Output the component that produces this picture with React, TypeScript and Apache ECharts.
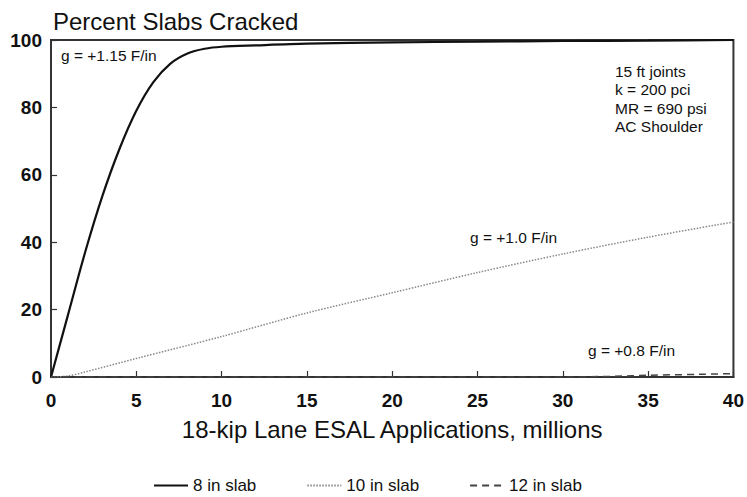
import React, { useEffect, useRef } from "react";
import * as echarts from "echarts";

const xTicks = [0, 5, 10, 15, 20, 25, 30, 35, 40];
const slab8X = [0, 1, 2, 3, 4, 5, 6, 7, 8, 9, 10, 12, 15, 20, 25, 30, 35, 40];
const slab8Y = [0, 18.5, 37, 53.5, 67.5, 79, 87.5, 93, 96, 97.4, 98, 98.4, 98.9, 99.3, 99.5, 99.7, 99.8, 100];
const slab10X = [0, 1, 2, 5, 10, 15, 20, 25, 30, 35, 40];
const slab10Y = [0, 0.3, 1.5, 5.5, 12, 19, 25, 31, 36.5, 41.5, 46];
const slab12X = [0, 10, 20, 30, 33, 35, 38, 40];
const slab12Y = [0, 0, 0, 0, 0.2, 0.5, 0.8, 1];

const zip = (xs: number[], ys: number[]) => xs.map((x, i) => [x, ys[i]]);

const FONT = "Liberation Sans";

export default function App() {
  const ref = useRef<HTMLDivElement>(null);
  useEffect(() => {
    if (!ref.current) return;
    const chart = echarts.init(ref.current, undefined, { renderer: "svg" });
    chart.setOption({
      animation: false,
      backgroundColor: "#ffffff",
      textStyle: { fontFamily: FONT },
      title: {
        text: "Percent Slabs Cracked",
        left: 48,
        top: 4,
        textStyle: { fontFamily: FONT, fontSize: 24, fontWeight: "normal", color: "#111" },
      },
      grid: {
        left: 51,
        right: 7,
        top: 40,
        bottom: 120,
        show: true,
        borderColor: "#333",
        borderWidth: 2,
        backgroundColor: "transparent",
      },
      legend: {
        left: 148,
        top: 472,
        itemWidth: 34,
        itemHeight: 10,
        itemGap: 50,
        itemStyle: { opacity: 0 },
        textStyle: { fontFamily: FONT, fontSize: 17, color: "#111" },
        data: ["8 in slab", "10 in slab", "12 in slab"],
      },
      xAxis: {
        type: "value",
        min: 0,
        max: 40,
        interval: 5,
        name: "18-kip Lane ESAL Applications, millions",
        nameLocation: "middle",
        nameGap: 40,
        nameTextStyle: { fontFamily: FONT, fontSize: 24, color: "#111" },
        axisLine: { show: true, lineStyle: { color: "#333", width: 2 } },
        axisTick: { show: true, inside: true, length: 6, lineStyle: { color: "#333", width: 1.2 } },
        axisLabel: {
          margin: 14,
          fontFamily: FONT,
          fontSize: 19,
          fontWeight: "bold",
          color: "#111",
          formatter: (v: number) => (xTicks.includes(v) ? String(v) : ""),
        },
        splitLine: { show: false },
      },
      yAxis: {
        type: "value",
        min: 0,
        max: 100,
        interval: 20,
        axisLine: { show: true, lineStyle: { color: "#333", width: 2 } },
        axisTick: { show: true, inside: true, length: 6, lineStyle: { color: "#333", width: 1.2 } },
        axisLabel: { margin: 9, fontFamily: FONT, fontSize: 19, fontWeight: "bold", color: "#111" },
        splitLine: { show: false },
      },
      series: [
        {
          name: "8 in slab",
          type: "line",
          data: zip(slab8X, slab8Y),
          smooth: 0.3,
          symbol: "none",
          lineStyle: { color: "#111", width: 2.2, type: "solid" },
          itemStyle: { color: "#111" },
        },
        {
          name: "10 in slab",
          type: "line",
          data: zip(slab10X, slab10Y),
          smooth: 0.3,
          symbol: "none",
          lineStyle: { color: "#888", width: 1.5, type: [1.5, 1.5] },
          itemStyle: { color: "#888" },
        },
        {
          name: "12 in slab",
          type: "line",
          data: zip(slab12X, slab12Y),
          smooth: 0.3,
          symbol: "none",
          lineStyle: { color: "#444", width: 1.5, type: [7, 5] },
          itemStyle: { color: "#444" },
        },
      ],
      graphic: [
        {
          type: "text",
          left: 61,
          top: 47,
          style: { text: "g = +1.15 F/in", font: `15.5px "${FONT}"`, fill: "#111" },
        },
        {
          type: "text",
          left: 470,
          top: 229,
          style: { text: "g = +1.0 F/in", font: `15.5px "${FONT}"`, fill: "#111" },
        },
        {
          type: "text",
          left: 588,
          top: 342,
          style: { text: "g = +0.8 F/in", font: `15.5px "${FONT}"`, fill: "#111" },
        },
        {
          type: "text",
          left: 615,
          top: 62,
          style: {
            text: "15 ft joints\nk = 200 pci\nMR = 690 psi\nAC Shoulder",
            font: `15.5px "${FONT}"`,
            lineHeight: 18.5,
            fill: "#111",
          },
        },
      ],
    });
    return () => chart.dispose();
  }, []);
  return <div ref={ref} style={{ width: 747, height: 497, position: "absolute", left: 0, top: 0 }} />;
}
